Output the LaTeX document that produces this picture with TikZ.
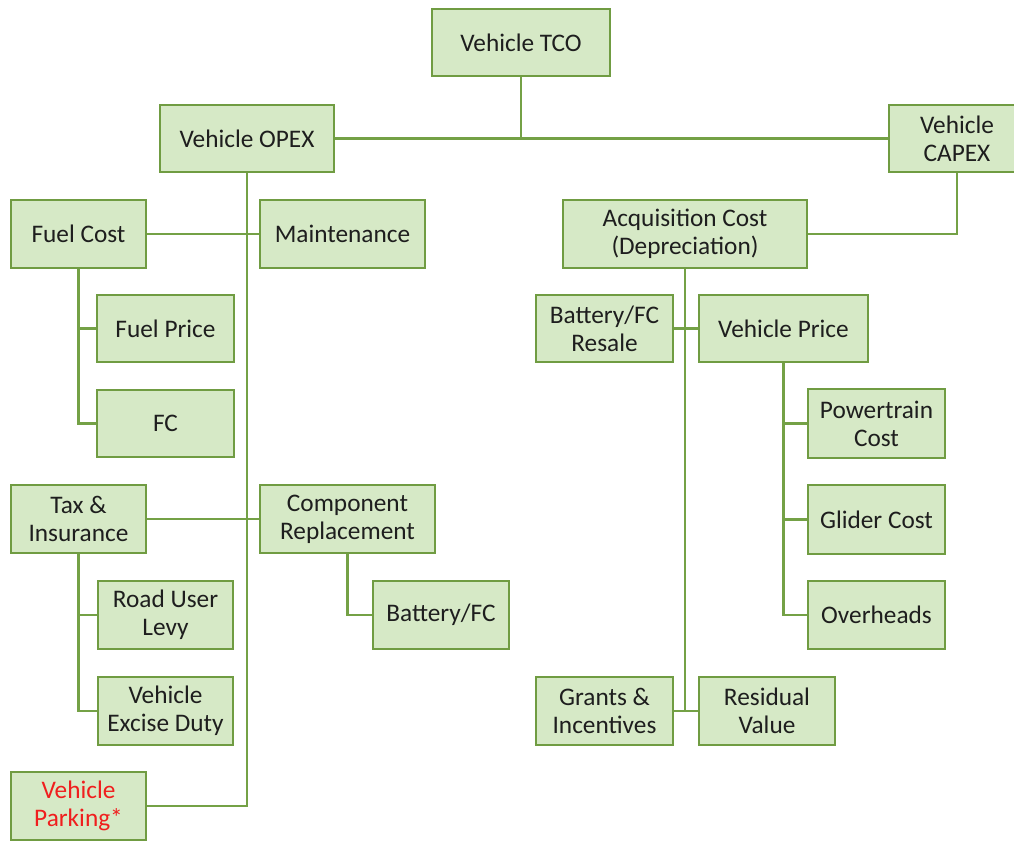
\documentclass[tikz,border=0pt]{standalone}
\usepackage{fontspec}
\setmainfont{Carlito}
\definecolor{boxfill}{RGB}{214,233,198}
\definecolor{boxline}{RGB}{112,156,66}
\definecolor{conn}{RGB}{116,161,70}
\definecolor{txt}{RGB}{30,30,30}
\definecolor{redtxt}{RGB}{240,30,30}
\begin{document}
\begin{tikzpicture}[x=1pt,y=-1pt,
  box/.style={draw=boxline, fill=boxfill, line width=2.6pt, inner sep=0pt,
    align=center, text=txt, font=\fontsize{25.3}{28}\selectfont},
  link/.style={draw=conn, line width=2.8pt}]
\clip (0,0) rectangle (1014,843);
\fill[white] (0,0) rectangle (1014,843);
% top level
\node[box, minimum width=178, minimum height=67] (tco) at (521,42.5) {Vehicle TCO};
\node[box, minimum width=174, minimum height=67] (opex) at (247,138.5) {Vehicle OPEX};
\node[box, minimum width=136, minimum height=67] (capex) at (957,138.5) {Vehicle\\CAPEX};
% OPEX branch
\node[box, minimum width=135, minimum height=68] (fuel) at (78.5,234) {Fuel Cost};
\node[box, minimum width=165, minimum height=68] (maint) at (342.5,234) {Maintenance};
\node[box, minimum width=137, minimum height=67] (fprice) at (165.5,328.5) {Fuel Price};
\node[box, minimum width=137, minimum height=67] (fc) at (165.5,423.5) {FC};
\node[box, minimum width=135, minimum height=68] (tax) at (78.5,519) {Tax \&\\Insurance};
\node[box, minimum width=175, minimum height=68] (comp) at (347.5,519) {Component\\Replacement};
\node[box, minimum width=135, minimum height=68] (road) at (165.5,615) {Road User\\Levy};
\node[box, minimum width=135, minimum height=68] (excise) at (165.5,711) {Vehicle\\Excise Duty};
\node[box, minimum width=136, minimum height=68] (bat) at (441,615) {Battery/FC};
\node[box, minimum width=135, minimum height=68, text=redtxt] (park) at (78.5,806) {Vehicle\\Parking*};
% CAPEX branch
\node[box, minimum width=244, minimum height=68] (acq) at (685,234) {Acquisition Cost\\(Depreciation)};
\node[box, minimum width=137, minimum height=67] (bfcr) at (604.5,328.5) {Battery/FC\\Resale};
\node[box, minimum width=169, minimum height=67] (vprice) at (783.5,328.5) {Vehicle Price};
\node[box, minimum width=137, minimum height=69] (power) at (876.5,423.5) {Powertrain\\Cost};
\node[box, minimum width=137, minimum height=69] (glider) at (876.5,519.5) {Glider Cost};
\node[box, minimum width=137, minimum height=68] (over) at (876.5,615) {Overheads};
\node[box, minimum width=137, minimum height=68] (grants) at (604.5,711) {Grants \&\\Incentives};
\node[box, minimum width=136, minimum height=68] (resid) at (767,711) {Residual\\Value};
% connectors
\path[link] (tco.south) -- (tco.south |- opex.east);
\path[link] (opex.east) -- (capex.west);
\path[link] (opex.south) -- (opex.south |- park.east) -- (park.east);
\path[link] (fuel.east) -- (maint.west);
\path[link] (tax.east) -- (comp.west);
\path[link] (fuel.south) -- (fuel.south |- fc.west) -- (fc.west);
\path[link] (fuel.south |- fprice.west) -- (fprice.west);
\path[link] (tax.south) -- (tax.south |- excise.west) -- (excise.west);
\path[link] (tax.south |- road.west) -- (road.west);
\path[link] (comp.south) -- (comp.south |- bat.west) -- (bat.west);
\path[link] (acq.east) -- (capex.south |- acq.east) -- (capex.south);
\path[link] (acq.south) -- (acq.south |- grants.east);
\path[link] (bfcr.east) -- (vprice.west);
\path[link] (grants.east) -- (resid.west);
\path[link] (vprice.south) -- (vprice.south |- over.west) -- (over.west);
\path[link] (vprice.south |- power.west) -- (power.west);
\path[link] (vprice.south |- glider.west) -- (glider.west);
\end{tikzpicture}
\end{document}
